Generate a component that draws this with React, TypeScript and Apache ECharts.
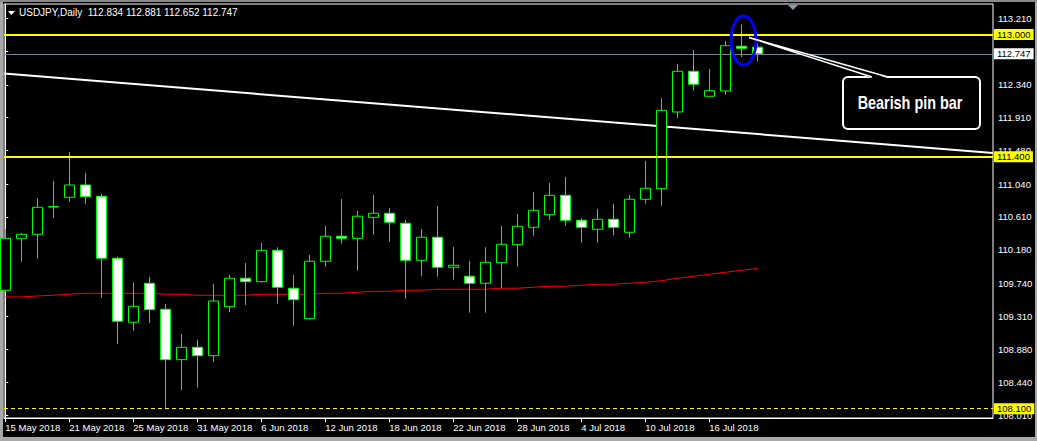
import React, { useEffect, useRef } from 'react';
import * as echarts from 'echarts';

// ---------- data ----------
const dates = [
  '15 May 2018', '16 May 2018', '17 May 2018', '18 May 2018', '21 May 2018', '22 May 2018', '23 May 2018', '24 May 2018',
  '25 May 2018', '28 May 2018', '29 May 2018', '30 May 2018', '31 May 2018', '1 Jun 2018', '4 Jun 2018', '5 Jun 2018',
  '6 Jun 2018', '7 Jun 2018', '8 Jun 2018', '11 Jun 2018', '12 Jun 2018', '13 Jun 2018', '14 Jun 2018', '15 Jun 2018',
  '18 Jun 2018', '19 Jun 2018', '20 Jun 2018', '21 Jun 2018', '22 Jun 2018', '25 Jun 2018', '26 Jun 2018', '27 Jun 2018',
  '28 Jun 2018', '29 Jun 2018', '2 Jul 2018', '3 Jul 2018', '4 Jul 2018', '5 Jul 2018', '6 Jul 2018', '9 Jul 2018',
  '10 Jul 2018', '11 Jul 2018', '12 Jul 2018', '13 Jul 2018', '16 Jul 2018', '17 Jul 2018', '18 Jul 2018', '19 Jul 2018',
];

const opens = [
  109.650, 110.331, 110.384, 110.741, 110.868, 111.029, 110.881, 110.070,
  109.232, 109.742, 109.402, 108.742, 108.904, 108.794, 109.436, 109.808,
  109.763, 110.174, 109.677, 109.279, 110.030, 110.358, 110.331, 110.606,
  110.659, 110.528, 110.043, 110.345, 109.952, 109.834, 109.742, 110.012,
  110.248, 110.475, 110.640, 110.894, 110.567, 110.449, 110.580, 110.410,
  110.842, 110.981, 111.985, 112.518, 112.191, 112.260, 112.846, 112.834,
];

const closes = [
  110.331, 110.384, 110.737, 110.748, 111.029, 110.876, 110.070, 109.245,
  109.441, 109.397, 108.742, 108.904, 108.794, 109.510, 109.808, 109.763,
  110.174, 109.690, 109.527, 110.030, 110.358, 110.331, 110.620, 110.659,
  110.541, 110.043, 110.345, 109.952, 109.978, 109.742, 110.017, 110.253,
  110.489, 110.698, 110.894, 110.567, 110.475, 110.580, 110.475, 110.842,
  110.986, 112.007, 112.518, 112.348, 112.264, 112.853, 112.819, 112.747,
];

const lows = [
  109.628, 110.025, 110.064, 110.597, 110.811, 110.781, 109.554, 108.947,
  109.118, 109.222, 108.100, 108.345, 108.375, 108.712, 109.366, 109.458,
  109.753, 109.475, 109.187, 109.268, 109.960, 110.261, 109.907, 110.379,
  110.287, 109.541, 109.838, 109.829, 109.789, 109.357, 109.357, 109.677,
  109.960, 110.365, 110.571, 110.496, 110.274, 110.274, 110.371, 110.339,
  110.784, 110.758, 111.903, 112.264, 112.188, 112.212, 112.705, 112.652,
];

const highs = [
  110.453, 110.401, 110.855, 111.082, 111.461, 111.187, 110.912, 110.091,
  109.750, 109.825, 109.471, 109.078, 109.004, 109.733, 109.851, 110.008,
  110.270, 110.214, 109.851, 110.113, 110.493, 110.846, 110.689, 110.898,
  110.728, 110.571, 110.453, 110.754, 110.218, 110.034, 110.214, 110.493,
  110.650, 110.938, 111.056, 111.134, 110.593, 110.715, 110.781, 110.898,
  111.344, 112.165, 112.614, 112.797, 112.548, 112.915, 113.128, 112.881,
];

const maValues = [
  109.563, 109.563, 109.576, 109.585, 109.598, 109.611, 109.611, 109.611,
  109.611, 109.611, 109.598, 109.598, 109.585, 109.585, 109.585, 109.585,
  109.598, 109.598, 109.598, 109.598, 109.611, 109.611, 109.624, 109.637,
  109.637, 109.651, 109.651, 109.664, 109.664, 109.664, 109.664, 109.677,
  109.677, 109.690, 109.703, 109.703, 109.716, 109.729, 109.729, 109.742,
  109.755, 109.775, 109.808, 109.834, 109.860, 109.886, 109.912, 109.936,
];

const priceTicks = [108.01, 108.44, 108.88, 109.31, 109.74, 110.18, 110.61, 111.04, 111.48, 111.91, 112.34, 112.78, 113.21];
const priceTickLabels = priceTicks.filter((v) => v !== 112.78); // hidden under the bid box
const dateTickIndexes = [0, 4, 8, 12, 16, 20, 24, 28, 32, 36, 40, 44];

const resistanceLevels = [113.0, 111.4];
const supportLevel = 108.1;
const bidPrice = 112.747;
const trendLine = [112.488, 111.448]; // price at left edge, price at right edge

const titleText = 'USDJPY,Daily\u00a0\u00a0112.834 112.881 112.652 112.747';
const noteText = 'Bearish pin bar';

// ---------- view ----------
const X_MIN = -0.08;
const X_MAX = 61.73;
const Y_MIN = 107.978;
const Y_MAX = 113.399;
const FONT = '"Liberation Sans", Arial, sans-serif';

export default function App() {
  const ref = useRef<HTMLDivElement>(null);

  useEffect(() => {
    document.body.style.margin = '0';
    document.body.style.background = '#000';
    const chart = echarts.init(ref.current!, null, { renderer: 'svg' });

    const candles = dates.map((_, i) => [i, opens[i], closes[i], lows[i], highs[i]]);
    const ma = maValues.map((v, i) => [i, v]);

    const lvlLabel = (bg: string) => ({
      show: true,
      position: 'end',
      distance: 1,
      formatter: (p: any) => Number(p.value).toFixed(3),
      color: '#000',
      backgroundColor: bg,
      fontFamily: FONT,
      fontSize: 9.5,
      padding: [1, 3, 0, 3],
    });

    const option: any = {
      animation: false,
      backgroundColor: '#000',
      title: {
        text: titleText,
        left: 19,
        top: 7,
        padding: 0,
        textStyle: { color: '#fff', fontSize: 10, fontWeight: 'normal', fontFamily: FONT },
      },
      grid: {
        left: 4,
        top: 4,
        right: 44,
        bottom: 23,
        show: true,
        borderColor: '#ffffff',
        borderWidth: 1,
        backgroundColor: '#000',
        containLabel: false,
        outerBoundsMode: 'none',
      },
      xAxis: {
        type: 'value',
        min: X_MIN,
        max: X_MAX,
        splitLine: { show: false },
        axisLine: { show: true, lineStyle: { color: '#fff', width: 1 } },
        axisTick: { show: true, length: 4, customValues: dateTickIndexes, lineStyle: { color: '#fff' } },
        axisLabel: {
          show: true,
          customValues: dateTickIndexes,
          formatter: (v: number) => dates[Math.round(v)] ?? '',
          align: 'left',
          margin: 4,
          color: '#fff',
          fontFamily: FONT,
          fontSize: 9.5,
          hideOverlap: false,
        },
      },
      yAxis: {
        type: 'value',
        position: 'right',
        min: Y_MIN,
        max: Y_MAX,
        splitLine: { show: false },
        axisLine: { show: true, lineStyle: { color: '#fff', width: 1 } },
        axisTick: { show: true, length: 3, customValues: priceTicks, lineStyle: { color: '#fff' } },
        axisLabel: {
          show: true,
          customValues: priceTickLabels,
          formatter: (v: number) => v.toFixed(3),
          margin: 5,
          color: '#fff',
          fontFamily: FONT,
          fontSize: 9.5,
          hideOverlap: false,
        },
      },
      series: [
        {
          name: 'MA',
          type: 'line',
          data: ma,
          showSymbol: false,
          symbol: 'none',
          lineStyle: { color: '#ff0000', width: 1 },
          z: 2,
        },
        {
          name: 'Trend',
          type: 'line',
          data: [[X_MIN, trendLine[0]], [X_MAX, trendLine[1]]],
          showSymbol: false,
          symbol: 'none',
          lineStyle: { color: '#ffffff', width: 2 },
          z: 2,
          markLine: {
            silent: true,
            symbol: ['none', 'none'],
            precision: 3,
            data: [
              ...resistanceLevels.map((v) => ({
                yAxis: v,
                lineStyle: { color: '#ffff00', width: 2, type: 'solid' },
                label: lvlLabel('#ffff00'),
              })),
              {
                yAxis: supportLevel,
                lineStyle: { color: '#ffff00', width: 1, type: [4, 3] },
                label: lvlLabel('#ffff00'),
              },
              {
                yAxis: bidPrice,
                lineStyle: { color: '#778899', width: 1, type: 'solid' },
                label: lvlLabel('#ffffff'),
              },
            ],
          },
        },
        {
          name: 'USDJPY',
          type: 'candlestick',
          data: candles,
          encode: { x: 0, y: [1, 2, 3, 4] },
          barWidth: 10,
          clip: true,
          z: 3,
          itemStyle: {
            color: '#000000',
            color0: '#ffffff',
            borderColor: '#00ff00',
            borderColor0: '#00ff00',
            borderColorDoji: '#00ff00',
            borderWidth: 1,
          },
        },
      ],
      graphic: [
        { type: 'rect', shape: { x: 0, y: 0, width: 3, height: 441 }, style: { fill: '#a8a8a8' }, silent: true },
        { type: 'rect', shape: { x: 1035, y: 0, width: 2, height: 441 }, style: { fill: '#a8a8a8' }, silent: true },
        { type: 'rect', shape: { x: 0, y: 0, width: 1037, height: 2 }, style: { fill: '#8a8a8a' }, silent: true },
        { type: 'rect', shape: { x: 0, y: 437, width: 1037, height: 4 }, style: { fill: '#a8a8a8' }, silent: true },
        { type: 'polygon', shape: { points: [[8, 11], [15, 11], [11.5, 15]] }, style: { fill: '#fff' }, silent: true },
        { type: 'polygon', shape: { points: [[788, 5], [798, 5], [793, 10]] }, style: { fill: '#8899aa' }, silent: true },
        {
          type: 'ellipse',
          shape: { cx: 743.5, cy: 40.5, rx: 12.5, ry: 24.5 },
          style: { fill: 'none', stroke: '#0000ff', lineWidth: 3 },
          z: 20,
          silent: true,
        },
        {
          type: 'rect',
          shape: { x: 843, y: 77, width: 137, height: 52, r: 5 },
          style: { fill: '#000', stroke: '#ffffff', lineWidth: 2 },
          z: 20,
          silent: true,
        },
        {
          type: 'polygon',
          shape: { points: [[749, 37.5], [872, 78], [888, 78]] },
          style: { fill: '#000', stroke: 'none' },
          z: 21,
          silent: true,
        },
        {
          type: 'polyline',
          shape: { points: [[872, 77], [749, 37.5], [888, 77]] },
          style: { fill: 'none', stroke: '#ffffff', lineWidth: 1.5 },
          z: 21,
          silent: true,
        },
        {
          type: 'text',
          x: 910,
          y: 102.5,
          scaleX: 0.8,
          style: {
            text: noteText,
            fill: '#ffffff',
            font: 'bold 18px "Liberation Sans", Arial, sans-serif',
            align: 'center',
            verticalAlign: 'middle',
          },
          z: 22,
          silent: true,
        },
      ],
    };

    chart.setOption(option);
    return () => chart.dispose();
  }, []);

  return <div ref={ref} style={{ width: 1037, height: 441, background: '#000' }} />;
}
